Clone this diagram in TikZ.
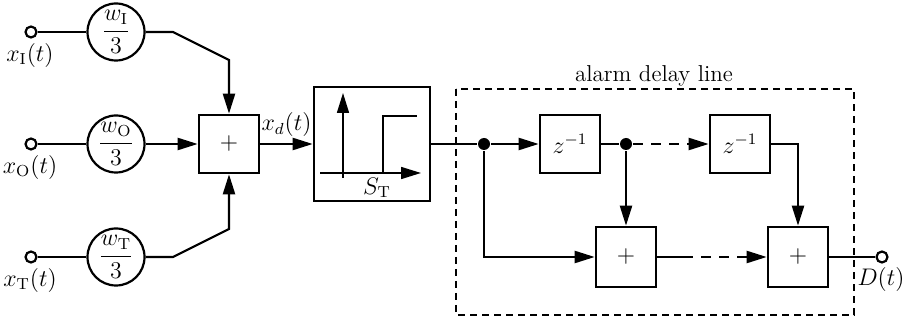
\documentclass[tikz,border=0pt]{standalone}
\usetikzlibrary{arrows.meta}
\begin{document}
\begin{tikzpicture}[x=0.5pt,y=-0.5pt,
  font=\fontsize{11.5}{13.8}\selectfont,
  line width=1.1pt,
  >={Triangle[length=10pt,width=6pt]},
  port/.style={circle,draw,fill=white,inner sep=0pt,minimum size=5.5pt},
  wgt/.style={circle,draw,inner sep=0pt,minimum size=28.5pt},
  blk/.style={draw,line width=1.3pt,minimum width=30pt,minimum height=29pt,inner sep=0pt},
  thrbox/.style={draw,line width=1.3pt,minimum width=58pt,minimum height=57pt,inner sep=0pt},
  jdot/.style={circle,fill,inner sep=0pt,minimum size=6pt},
  sig/.style={dash pattern=on 5pt off 4pt},
  grp/.style={draw,dash pattern=on 3.5pt off 2.5pt,line width=1.1pt},
  lbl/.style={inner sep=1pt}]
\useasboundingbox (0,0) rectangle (911,320);

% alarm delay line group
\draw[grp] (456,89) rectangle (854,315);
\node[lbl] (grplbl) at (654,76) {alarm delay line};

% inputs
\node[port] (iI) at (31,32) {};
\node[port] (iO) at (31,144) {};
\node[port] (iT) at (31,257) {};
\node[lbl,anchor=north] (lI) at (30,40) {$x_{\mathrm{I}}(t)$};
\node[lbl,anchor=north] (lO) at (30,152) {$x_{\mathrm{O}}(t)$};
\node[lbl,anchor=north] (lT) at (30,265) {$x_{\mathrm{T}}(t)$};

% weights
\node[wgt] (wI) at (116,32) {$\displaystyle\frac{w_{\mathrm{I}}}{3}$};
\node[wgt] (wO) at (116,144) {$\displaystyle\frac{w_{\mathrm{O}}}{3}$};
\node[wgt] (wT) at (116,257) {$\displaystyle\frac{w_{\mathrm{T}}}{3}$};

% sum
\node[blk] (sum) at (229,144) {$+$};

% threshold
\node[thrbox] (thr) at (372,144) {};
\node[lbl] (stl) at (377,188) {$S_{\mathrm{T}}$};
\draw[line width=0.8pt,->] (343,178) -- (343,93);
\draw[line width=0.8pt,->] (320,173) -- (421,173);
\draw[line width=0.8pt] (383,173) -- (383,116) -- (417,116);

% delay line
\node[jdot] (d1) at (484,144) {};
\node[blk] (z1) at (570,144) {$z^{-1}$};
\node[jdot] (d2) at (626,144) {};
\node[blk] (z2) at (740,144) {$z^{-1}$};
\node[blk,minimum height=30pt] (s1) at (626,257) {$+$};
\node[blk,minimum height=30pt] (s2) at (798,257) {$+$};
\node[port] (out) at (882,257) {};
\node[lbl,anchor=north] (lD) at (881,264) {$D(t)$};

% connectors
\coordinate (bI1) at (173,32);
\coordinate (bI2) at (229,60);
\coordinate (bT1) at (173,257);
\coordinate (bT2) at (229,229);
\coordinate (sd) at (683,257);

\draw (iI) -- (wI);
\draw (iO) -- (wO);
\draw (iT) -- (wT);
\draw[->] (wI) -- (bI1) -- (bI2) -- (sum);
\draw[->] (wO) -- (sum);
\draw[->] (wT) -- (bT1) -- (bT2) -- (sum);
\draw[->] (sum) -- node[lbl,above,pos=0.5,yshift=2pt] (xdl) {$x_d(t)$} (thr);

\draw (thr) -- (d1);
\draw[->] (d1) -- (z1);
\draw (z1) -- (d2);
\draw[->,sig] (d2) -- (z2);
\draw[->] (d1) |- (s1);
\draw[->] (d2) -- (s1);
\draw[->] (z2) -| (s2);
\draw (s1) -- (sd);
\draw[->,sig] (sd) -- (s2);
\draw (s2) -- (out);
\end{tikzpicture}
\end{document}
